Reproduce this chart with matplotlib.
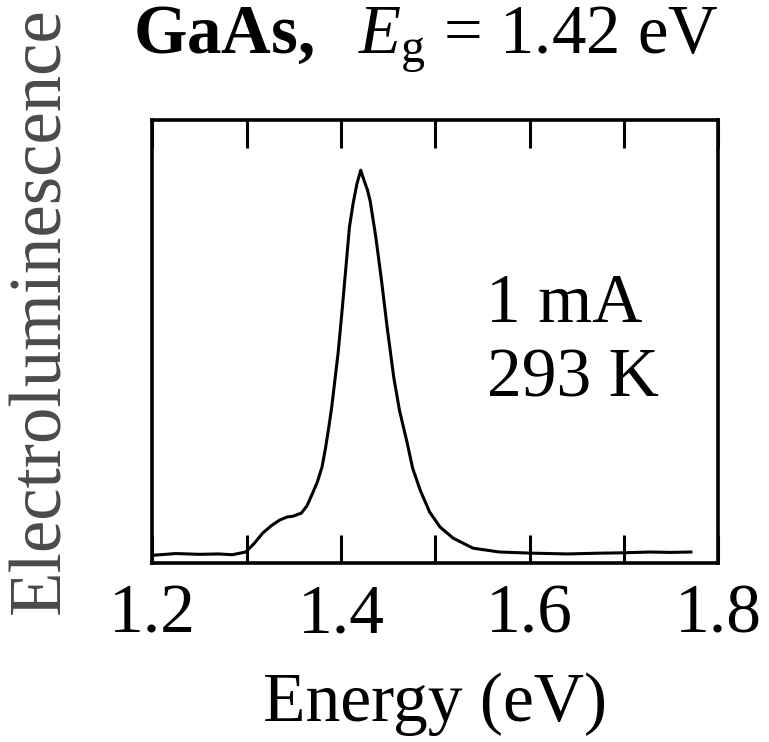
"""
Espectro de eletroluminescencia do GaAs (1 mA, 293 K).
Saida: out.png
"""

import matplotlib
matplotlib.use("Agg")
import matplotlib.pyplot as plt
from matplotlib.ticker import MultipleLocator, FuncFormatter

# energia (eV) e intensidade normalizada
energia = [1.203, 1.225, 1.250, 1.270, 1.285, 1.299, 1.308, 1.317, 1.326,
           1.335, 1.343, 1.349, 1.358, 1.364, 1.370, 1.375, 1.380, 1.384,
           1.387, 1.390, 1.392, 1.397, 1.401, 1.405, 1.409, 1.413, 1.417,
           1.421, 1.425, 1.428, 1.431, 1.437, 1.443, 1.449, 1.456, 1.462,
           1.470, 1.476, 1.484, 1.494, 1.505, 1.519, 1.540, 1.568, 1.603,
           1.640, 1.674, 1.700, 1.727, 1.750, 1.771]
intensidade = [0.000, 0.004, 0.002, 0.003, 0.001, 0.008, 0.030, 0.057, 0.076,
               0.091, 0.099, 0.101, 0.109, 0.128, 0.161, 0.190, 0.229, 0.283,
               0.330, 0.380, 0.421, 0.525, 0.629, 0.740, 0.852, 0.915, 0.965,
               1.000, 0.970, 0.950, 0.920, 0.826, 0.714, 0.592, 0.462, 0.377,
               0.294, 0.226, 0.169, 0.112, 0.073, 0.044, 0.018, 0.008, 0.005,
               0.003, 0.005, 0.006, 0.008, 0.007, 0.008]

ticks_x = [1.2, 1.4, 1.6, 1.8]

plt.rcParams["font.family"] = ["Liberation Serif", "DejaVu Serif"]
plt.rcParams["mathtext.fontset"] = "custom"
plt.rcParams["mathtext.rm"] = "Liberation Serif"
plt.rcParams["mathtext.it"] = "Liberation Serif:italic"
plt.rcParams["mathtext.bf"] = "Liberation Serif:bold"

fig = plt.figure(figsize=(7.69, 7.42), dpi=100)
ax = fig.add_axes([0.198, 0.241, 0.736, 0.597])

ax.plot(energia, intensidade, color="black", lw=2.2)

ax.set_xlim(1.2, 1.8)
ax.set_ylim(-0.021, 1.13)
ax.xaxis.set_major_locator(MultipleLocator(0.1))
ax.xaxis.set_major_formatter(FuncFormatter(
    lambda v, p: f"{v:.1f}" if any(abs(v - t) < 1e-6 for t in ticks_x) else ""))
ax.tick_params(axis="x", direction="in", top=True, length=20, width=2.2,
               labelsize=50, pad=15)
ax.set_yticks([])
for s in ax.spines.values():
    s.set_linewidth(2.6)

ax.set_xlabel("Energy (eV)", fontsize=50, labelpad=18)
fig.text(0.054, 0.581, "Electroluminescence", rotation=90, fontsize=52.5,
         ha="center", va="center", color="#4a4a4a")

fig.text(0.553, 0.928, r"$\mathbf{GaAs,}$  $E_{\mathrm{g}}$ = 1.42 eV",
         fontsize=49.5, ha="center", va="baseline")

ax.text(1.637, 0.649, "1 mA", fontsize=50, ha="center", va="center")
ax.text(1.646, 0.455, "293 K", fontsize=50, ha="center", va="center")

fig.savefig("out.png", dpi=100)
